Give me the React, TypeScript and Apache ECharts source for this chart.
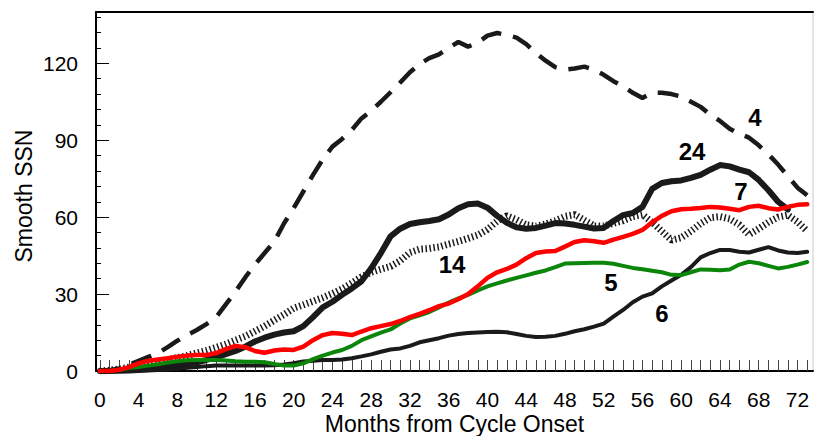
import React, { useEffect, useRef } from "react";
import * as echarts from "echarts";

// Months from cycle onset (x values)
const months: number[] = [
  0, 1, 2, 3, 4, 5, 6, 7, 8, 9, 10, 11, 12, 13, 14, 15, 16, 17, 18, 19,
  20, 21, 22, 23, 24, 25, 26, 27, 28, 29, 30, 31, 32, 33, 34, 35, 36, 37, 38, 39,
  40, 41, 42, 43, 44, 45, 46, 47, 48, 49, 50, 51, 52, 53, 54, 55, 56, 57, 58, 59,
  60, 61, 62, 63, 64, 65, 66, 67, 68, 69, 70, 71, 72, 73,
];

const xTickLabels: number[] = [0, 4, 8, 12, 16, 20, 24, 28, 32, 36, 40, 44, 48, 52, 56, 60, 64, 68, 72];
const yTickLabels: number[] = [0, 30, 60, 90, 120];
const yMinorTicks: number[] = [6, 12, 18, 24, 36, 42, 48, 54, 66, 72, 78, 84, 96, 102, 108, 114, 126, 132, 138];

// Cycle 4 (dashed)
const cycle4: number[] = [
  0, 0.3, 1, 2.5, 4, 5.5, 7, 9.3, 11.8, 14, 16, 18.3, 21, 26, 31, 36.5, 41.5, 46, 50.5, 57.5,
  63.5, 70, 76.5, 82.5, 87.5, 90.5, 94, 98.5, 101.5, 105, 108.7, 112.5, 116.5, 119.7, 122, 123.5, 126, 128.3, 126.5, 128,
  130.8, 131.8, 131, 130, 127.5, 124, 121, 118.5, 117.5, 118, 118.7, 117.5, 115.5, 113, 111, 108.5, 106.5, 108.5, 108.5, 108,
  107, 105, 103, 100, 97.5, 94.5, 92.5, 91, 88, 84.5, 80.5, 76, 71.5, 68.5,
];

// Cycle 24 (thick black)
const cycle24: number[] = [
  0, 0, 0.1, 0.2, 0.4, 0.8, 1.2, 1.7, 2.2, 2.8, 3.4, 4.3, 5.3, 6.6, 7.8, 9.5, 11.5, 13, 14.2, 15,
  15.5, 17.5, 21, 24.8, 27, 29.7, 32.2, 35, 40, 46, 52.5, 55.5, 57.3, 58, 58.5, 59.2, 61, 63.5, 65, 65.3,
  63.7, 60.5, 57.8, 56, 55.5, 55.8, 56.7, 57.7, 57.5, 57, 56.3, 55.6, 55.8, 58.5, 60.8, 61.6, 64, 71, 73.3, 74,
  74.3, 75.3, 76.5, 78.5, 80.3, 79.8, 78.5, 77.5, 74.5, 70.5, 66, 63,
];

// Cycle 14 (hatched / dotted)
const cycle14: number[] = [
  0, 0.3, 0.8, 1.5, 2.2, 3, 3.7, 4.4, 5.2, 6, 7, 8, 9.2, 10.5, 12, 13.5, 15.5, 17.5, 19.8, 22,
  24.5, 25.8, 27.2, 28.6, 30.2, 32, 34.3, 36.7, 38.5, 39.7, 40.8, 43, 46.2, 47.5, 47.8, 48.4, 49.5, 50.5, 51.7, 53,
  55.2, 58.5, 60.5, 59, 57, 56.5, 57.3, 58.6, 60.3, 61, 58.8, 56.6, 56.5, 57.6, 58.6, 60.2, 61, 58, 54.5, 51,
  52, 54.5, 57.5, 59.8, 60.2, 59.3, 57, 53.2, 55.5, 58, 60, 60.8, 58.2, 54.5,
];

// Cycle 6 (black)
const cycle6: number[] = [
  0, 0, 0, 0, 0.1, 0.2, 0.4, 0.6, 0.9, 1.3, 1.6, 1.9, 2.1, 2.1, 2.1, 2.1, 2.1, 2.1, 2.2, 2.5,
  3, 3.7, 4, 4.3, 4.3, 4.5, 5, 5.7, 6.5, 7.5, 8.4, 8.8, 9.8, 11.2, 12, 12.8, 13.8, 14.4, 14.8, 15,
  15.2, 15.3, 15.1, 14.4, 13.7, 13.3, 13.4, 13.7, 14.5, 15.5, 16.3, 17.3, 18.5, 21.2, 23.8, 26.8, 29, 30.3, 33, 35.3,
  37.5, 40.5, 44.3, 46, 47.2, 47.2, 46.5, 46.2, 47.3, 48.3, 47, 46.2, 46, 46.5,
];

// Cycle 5 (green)
const cycle5: number[] = [
  0, 0.1, 0.5, 1.2, 1.6, 2.1, 2.6, 3.3, 3.8, 4.2, 4.3, 4.3, 4.3, 4.1, 3.8, 3.6, 3.6, 3.4, 2.7, 2.1,
  2.1, 3, 4.6, 6, 7.2, 8.2, 9.8, 12, 13.5, 15, 16.2, 18.5, 20.5, 21.7, 23, 24.8, 26.7, 28.3, 29.7, 31.4,
  33, 34.2, 35.3, 36.3, 37.3, 38.3, 39.2, 40.5, 41.9, 42, 42.1, 42.2, 42.2, 41.8, 41, 40.2, 39.7, 39.1, 38.5, 37.5,
  37.4, 38.5, 39.6, 39.5, 39.3, 39.6, 41.5, 42.6, 42, 41, 40, 40.6, 41.5, 42.5,
];

// Cycle 7 (red)
const cycle7: number[] = [
  0, 0, 0.5, 1.5, 3, 4, 4.5, 5, 5.6, 6, 6.2, 6.2, 7, 8.5, 9.8, 9.3, 7.8, 7.1, 8, 8.4,
  8.2, 9.5, 12, 14, 14.8, 14.5, 14, 15.4, 16.7, 17.5, 18.3, 19.5, 21, 22.3, 23.7, 25.3, 26.3, 28, 30, 33,
  36.3, 38.5, 39.8, 41.5, 44, 46, 46.6, 46.8, 48.5, 50.3, 51, 50.6, 50, 51.2, 52.3, 53.5, 55, 58, 60.5, 62.3,
  63.1, 63.3, 63.6, 64, 63.8, 63.3, 62.7, 64, 64.4, 63.5, 63, 64, 64.8, 65,
];

const seriesLabels = [
  { text: "4", x: 755, y: 117 },
  { text: "24", x: 692, y: 151 },
  { text: "7", x: 741, y: 191 },
  { text: "14", x: 452, y: 264 },
  { text: "5", x: 611, y: 282 },
  { text: "6", x: 662, y: 313 },
];

const FONT = '"Liberation Sans", Arial, Helvetica, sans-serif';

const pairs = (vals: number[]) => vals.map((v, i) => [months[i], v]);

export default function App() {
  const ref = useRef<HTMLDivElement>(null);

  useEffect(() => {
    if (!ref.current) return;
    const chart = echarts.init(ref.current, null, { renderer: "svg" });
    const black = "#1a1a1a";
    const gridRect = { left: 96, right: 2, top: 12, bottom: 65, outerBoundsMode: "none", containLabel: false };
    const option: any = {
      animation: false,
      backgroundColor: "#ffffff",
      grid: [
        { ...gridRect, show: true, borderColor: "#c8c8c8", borderWidth: 1 },
        { ...gridRect, show: false },
      ],
      xAxis: [
        {
          type: "value",
          gridIndex: 0,
          min: -0.4,
          max: 73.6,
          position: "bottom",
          axisLine: { show: true, onZero: false, lineStyle: { color: "#000", width: 2 } },
          axisTick: {
            show: true,
            inside: true,
            length: 11,
            customValues: months,
            lineStyle: { color: "#444", width: 1 },
          },
          axisLabel: {
            customValues: xTickLabels,
            fontSize: 21,
            color: "#000",
            fontFamily: FONT,
            margin: 18,
          },
          splitLine: { show: false },
          name: "Months from Cycle Onset",
          nameLocation: "middle",
          nameGap: 41,
          nameMoveOverlap: false,
          nameTextStyle: { fontSize: 23, lineHeight: 23, color: "#000", fontFamily: FONT },
        },
        {
          type: "value",
          gridIndex: 0,
          min: -0.4,
          max: 73.6,
          position: "top",
          axisLine: { show: true, onZero: false, lineStyle: { color: "#000", width: 2 } },
          axisTick: { show: false },
          axisLabel: { show: false },
          splitLine: { show: false },
        },
        {
          type: "value",
          gridIndex: 1,
          min: -0.4,
          max: 73.6,
          show: false,
          axisLine: { show: false, onZero: false },
          splitLine: { show: false },
        },
      ],
      yAxis: [
        {
          type: "value",
          gridIndex: 0,
          min: 0,
          max: 140,
          position: "left",
          axisLine: { show: true, onZero: false, lineStyle: { color: "#000", width: 2 } },
          axisTick: {
            show: true,
            inside: true,
            length: 13,
            customValues: yTickLabels,
            lineStyle: { color: "#000", width: 1 },
          },
          axisLabel: {
            customValues: yTickLabels,
            fontSize: 21,
            color: "#000",
            fontFamily: FONT,
            margin: 18,
          },
          splitLine: { show: false },
        },
        {
          type: "value",
          gridIndex: 1,
          min: 0,
          max: 140,
          position: "left",
          axisLine: { show: false, onZero: false },
          axisTick: {
            show: true,
            inside: true,
            length: 5,
            customValues: yMinorTicks,
            lineStyle: { color: "#000", width: 1 },
          },
          axisLabel: { show: false },
          splitLine: { show: false },
        },
      ],
      series: [
        {
          name: "Cycle 4",
          type: "line",
          data: pairs(cycle4),
          showSymbol: false,
          symbol: "none",
          lineStyle: { color: black, width: 4.5, type: [21, 12], cap: "butt" },
          z: 2,
        },
        {
          name: "Cycle 24",
          type: "line",
          data: pairs(cycle24),
          showSymbol: false,
          symbol: "none",
          lineStyle: { color: black, width: 6, cap: "round", join: "round" },
          z: 3,
        },
        {
          name: "Cycle 14",
          type: "line",
          data: pairs(cycle14),
          showSymbol: false,
          symbol: "none",
          lineStyle: { color: black, width: 7, type: [1.5, 2.5], cap: "butt" },
          z: 4,
        },
        {
          name: "Cycle 6",
          type: "line",
          data: pairs(cycle6),
          showSymbol: false,
          symbol: "none",
          lineStyle: { color: black, width: 4, cap: "round", join: "round" },
          z: 5,
        },
        {
          name: "Cycle 5",
          type: "line",
          data: pairs(cycle5),
          showSymbol: false,
          symbol: "none",
          lineStyle: { color: "#0b860b", width: 4, cap: "round", join: "round" },
          z: 6,
        },
        {
          name: "Cycle 7",
          type: "line",
          data: pairs(cycle7),
          showSymbol: false,
          symbol: "none",
          lineStyle: { color: "#ff0000", width: 4.5, cap: "round", join: "round" },
          z: 7,
        },
      ],
      graphic: [
        {
          type: "text",
          x: 24,
          y: 196,
          rotation: Math.PI / 2,
          z: 100,
          style: {
            text: "Smooth SSN",
            font: `23px ${FONT}`,
            fill: "#000",
            align: "center",
            verticalAlign: "middle",
          },
        },
        ...seriesLabels.map((l) => ({
          type: "text",
          x: l.x,
          y: l.y,
          z: 100,
          style: {
            text: l.text,
            font: `bold 24px ${FONT}`,
            fill: "#000",
            align: "center",
            verticalAlign: "middle",
          },
        })),
      ],
    };
    chart.setOption(option);
    return () => chart.dispose();
  }, []);

  return (
    <div
      ref={ref}
      style={{ position: "fixed", left: 0, top: 0, width: 815, height: 436, background: "#fff" }}
    />
  );
}
